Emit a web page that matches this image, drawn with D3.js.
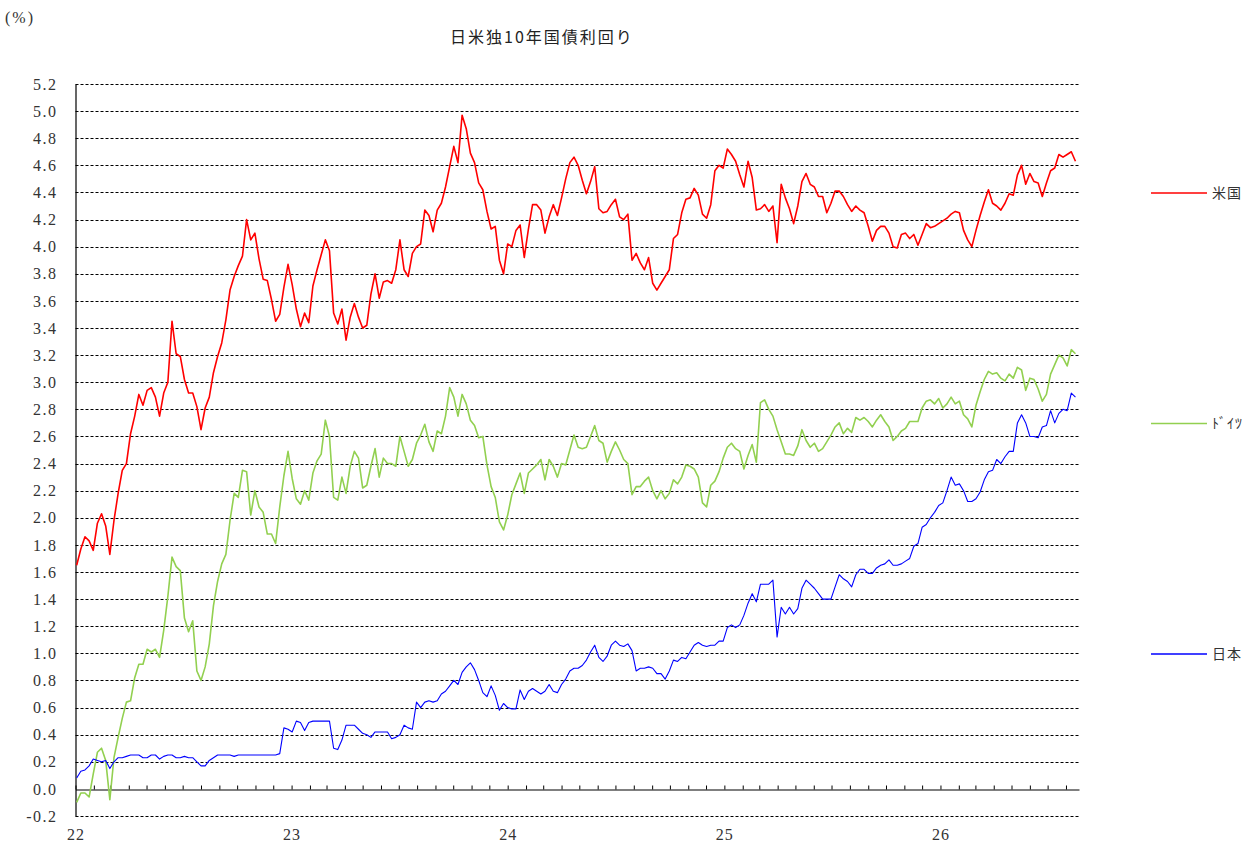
<!DOCTYPE html>
<html>
<head>
<meta charset="utf-8">
<script src="https://cdn.jsdelivr.net/npm/d3@7"></script>
<style>
  body { margin: 0; background: #fff; }
  svg { display: block; }
  .num { font-family: "Liberation Serif", "DejaVu Serif", serif; }
</style>
</head>
<body>
<div id="chart"></div>
<script>
//週次（月曜）の日付、2022年1月〜2026年8月
const weeks = d3.timeMonday.range(new Date(2022, 0, 3), new Date(2026, 7, 18));

// 米国10年債利回り (%)
const usYield = [
  1.65,1.77,1.86,1.83,1.76,1.96,2.03,1.94,1.73,1.98,2.18,2.35,2.40,2.62,2.75,2.91,2.83,2.94,2.96,2.89,
  2.75,2.92,3.00,3.45,3.21,3.19,3.02,2.92,2.92,2.82,2.65,2.81,2.89,3.07,3.19,3.29,3.46,3.68,3.78,3.86,
  3.93,4.20,4.05,4.10,3.91,3.76,3.75,3.61,3.45,3.50,3.70,3.87,3.72,3.54,3.41,3.51,3.44,3.71,3.83,3.94,
  4.05,3.97,3.51,3.43,3.54,3.31,3.48,3.58,3.48,3.40,3.42,3.65,3.80,3.62,3.74,3.75,3.73,3.83,4.05,3.83,
  3.78,3.95,4.00,4.02,4.27,4.23,4.11,4.27,4.32,4.44,4.59,4.74,4.62,4.97,4.87,4.69,4.62,4.47,4.42,4.26,
  4.13,4.15,3.90,3.80,4.02,4.00,4.12,4.16,3.92,4.13,4.31,4.31,4.27,4.10,4.22,4.31,4.23,4.36,4.50,4.62,
  4.66,4.60,4.49,4.39,4.48,4.59,4.28,4.25,4.26,4.31,4.35,4.22,4.20,4.24,3.90,3.95,3.88,3.83,3.92,3.73,
  3.68,3.73,3.78,3.83,4.06,4.09,4.25,4.35,4.36,4.43,4.38,4.24,4.21,4.31,4.56,4.60,4.58,4.72,4.68,4.63,
  4.53,4.44,4.63,4.51,4.27,4.28,4.31,4.26,4.30,4.03,4.46,4.36,4.28,4.17,4.30,4.48,4.54,4.46,4.44,4.37,
  4.37,4.25,4.32,4.41,4.41,4.37,4.31,4.26,4.30,4.27,4.25,4.15,4.04,4.12,4.15,4.15,4.10,4.00,3.99,4.09,
  4.10,4.06,4.09,4.01,4.09,4.17,4.14,4.15,4.17,4.19,4.21,4.24,4.26,4.25,4.12,4.05,4.00,4.12,4.23,4.33,
  4.42,4.32,4.30,4.27,4.32,4.39,4.38,4.53,4.60,4.46,4.54,4.48,4.47,4.37,4.47,4.56,4.58,4.68,4.66,4.68,
  4.70,4.63
];

// ドイツ10年債利回り (%)
const deYield = [
  -0.10,-0.03,-0.03,-0.06,0.11,0.27,0.30,0.21,-0.08,0.23,0.38,0.52,0.64,0.65,0.82,0.92,0.92,1.03,1.01,1.03,
  0.97,1.17,1.42,1.71,1.64,1.61,1.26,1.16,1.24,0.87,0.80,0.90,1.07,1.35,1.53,1.66,1.73,1.98,2.18,2.15,
  2.35,2.34,2.02,2.20,2.08,2.04,1.88,1.88,1.81,2.08,2.31,2.49,2.29,2.14,2.10,2.20,2.13,2.33,2.42,2.47,
  2.72,2.60,2.15,2.13,2.30,2.18,2.38,2.49,2.44,2.22,2.24,2.38,2.51,2.30,2.44,2.40,2.40,2.38,2.60,2.49,
  2.38,2.43,2.55,2.61,2.69,2.56,2.49,2.64,2.62,2.75,2.96,2.89,2.75,2.91,2.84,2.72,2.68,2.59,2.60,2.39,
  2.23,2.15,1.97,1.91,2.02,2.17,2.25,2.33,2.18,2.33,2.36,2.39,2.43,2.28,2.43,2.38,2.30,2.40,2.39,2.50,
  2.61,2.52,2.51,2.52,2.60,2.68,2.57,2.55,2.41,2.49,2.56,2.50,2.43,2.40,2.17,2.23,2.23,2.27,2.30,2.20,
  2.14,2.20,2.14,2.18,2.28,2.25,2.30,2.39,2.38,2.36,2.30,2.11,2.08,2.24,2.27,2.34,2.44,2.52,2.55,2.51,
  2.49,2.36,2.46,2.54,2.41,2.85,2.87,2.80,2.75,2.65,2.56,2.47,2.47,2.46,2.53,2.65,2.57,2.52,2.55,2.49,
  2.51,2.56,2.61,2.67,2.70,2.62,2.66,2.63,2.74,2.72,2.74,2.71,2.67,2.72,2.76,2.71,2.67,2.57,2.60,2.64,
  2.66,2.71,2.71,2.71,2.81,2.86,2.87,2.84,2.88,2.81,2.84,2.89,2.84,2.86,2.76,2.73,2.67,2.83,2.93,3.02,
  3.08,3.06,3.07,3.03,3.01,3.06,3.03,3.11,3.09,2.94,3.03,3.02,2.95,2.86,2.91,3.06,3.13,3.20,3.18,3.12,
  3.24,3.21
];

// 日本10年債利回り (%)
const jpYield = [
  0.08,0.13,0.14,0.17,0.22,0.21,0.20,0.21,0.15,0.20,0.23,0.23,0.24,0.25,0.25,0.25,0.23,0.23,0.25,0.25,
  0.22,0.24,0.25,0.25,0.23,0.23,0.24,0.23,0.23,0.20,0.17,0.17,0.21,0.23,0.25,0.25,0.25,0.25,0.24,0.25,
  0.25,0.25,0.25,0.25,0.25,0.25,0.25,0.25,0.25,0.26,0.45,0.44,0.42,0.50,0.49,0.43,0.49,0.50,0.50,0.50,
  0.50,0.50,0.30,0.29,0.36,0.47,0.47,0.47,0.44,0.41,0.40,0.38,0.42,0.42,0.42,0.42,0.37,0.38,0.40,0.47,
  0.45,0.44,0.64,0.60,0.64,0.65,0.64,0.65,0.70,0.72,0.76,0.80,0.77,0.86,0.90,0.93,0.88,0.80,0.71,0.68,
  0.76,0.69,0.58,0.63,0.60,0.59,0.59,0.73,0.66,0.72,0.74,0.72,0.70,0.72,0.77,0.72,0.71,0.77,0.81,0.87,
  0.89,0.89,0.91,0.95,1.01,1.06,0.97,0.94,0.98,1.06,1.09,1.06,1.05,1.07,1.02,0.87,0.89,0.89,0.90,0.89,
  0.85,0.85,0.81,0.87,0.95,0.94,0.97,0.96,1.01,1.06,1.08,1.06,1.05,1.06,1.06,1.09,1.09,1.19,1.21,1.19,
  1.21,1.28,1.37,1.44,1.38,1.51,1.51,1.51,1.54,1.12,1.34,1.29,1.34,1.29,1.33,1.48,1.54,1.51,1.48,1.44,
  1.40,1.40,1.40,1.49,1.58,1.55,1.53,1.49,1.58,1.62,1.62,1.59,1.59,1.63,1.65,1.66,1.69,1.65,1.65,1.66,
  1.68,1.70,1.79,1.81,1.93,1.95,2.00,2.04,2.09,2.11,2.20,2.30,2.24,2.25,2.20,2.12,2.12,2.14,2.19,2.28,
  2.34,2.35,2.43,2.40,2.45,2.49,2.49,2.70,2.76,2.70,2.60,2.60,2.59,2.67,2.68,2.79,2.70,2.77,2.80,2.79,
  2.92,2.89
];

const seriesNames = ["米国", "ﾄﾞｲﾂ", "日本"];
const seriesColors = ["#ff0000", "#92d050", "#0000ff"];
const seriesWidths = [1.6, 1.6, 1.1];

// 縦軸の目盛り
const yTicks = [-0.2, 0, 0.2, 0.4, 0.6, 0.8, 1.0, 1.2, 1.4, 1.6, 1.8, 2.0, 2.2, 2.4, 2.6,
  2.8, 3.0, 3.2, 3.4, 3.6, 3.8, 4.0, 4.2, 4.4, 4.6, 4.8, 5.0, 5.2];

const width = 1244, height = 842;
const left = 75.5, right = 1079;

const cjkFont = "'Noto Sans CJK JP', 'Noto Sans', sans-serif";

const svg = d3.select("#chart").append("svg")
    .attr("width", width)
    .attr("height", height);

const x = d3.scaleTime()
    .domain([new Date(2022, 0, 1), new Date(2026, 7, 23)])
    .range([left, right]);

const y = d3.scaleLinear()
    .domain([-0.2, 5.2])
    .range([816, 84]);

const crisp = v => Math.round(y(v)) + 0.5;

// 破線のグリッド
svg.append("g")
    .selectAll("line")
    .data(yTicks.filter(d => d !== 0))
    .enter()
    .append("line")
    .attr("x1", left)
    .attr("x2", right)
    .attr("y1", d => crisp(d))
    .attr("y2", d => crisp(d))
    .attr("stroke", "#000")
    .attr("stroke-width", 1)
    .attr("stroke-dasharray", "3,2");

// 縦軸
const yAxis = svg.append("g")
    .attr("transform", "translate(" + left + ",0)")
    .call(d3.axisLeft(y)
        .tickValues(yTicks)
        .tickFormat(d => d.toFixed(1))
        .tickSize(0)
        .tickPadding(18));
yAxis.attr("font-family", null).attr("font-size", null);
yAxis.select(".domain").attr("stroke", "#000").attr("stroke-width", 1.2);
yAxis.selectAll("text")
    .attr("class", "num")
    .style("font-size", "16px")
    .style("letter-spacing", "1.5px")
    .attr("fill", "#333");

// 横軸（ゼロ線と月目盛り）
const xAxis = svg.append("g")
    .attr("transform", "translate(0," + crisp(0) + ")")
    .call(d3.axisTop(x)
        .ticks(d3.timeMonth.every(1))
        .tickFormat("")
        .tickSize(4)
        .tickSizeOuter(0));
xAxis.select(".domain").attr("stroke", "#000").attr("stroke-width", 1.2);
xAxis.selectAll(".tick line").attr("stroke", "#000");

// 年ラベル
const yearAxis = svg.append("g")
    .attr("transform", "translate(0,829)")
    .call(d3.axisBottom(x)
        .ticks(d3.timeYear.every(1))
        .tickFormat(d3.timeFormat("%y"))
        .tickSize(0)
        .tickPadding(0));
yearAxis.attr("font-family", null).attr("font-size", null);
yearAxis.select(".domain").remove();
yearAxis.selectAll("text")
    .attr("class", "num")
    .style("font-size", "16px")
    .style("letter-spacing", "1px")
    .attr("fill", "#333");

// 系列の線
const line = d3.line()
    .x((d, i) => x(weeks[i]))
    .y(d => y(d));

[usYield, deYield, jpYield].forEach(function(values, i) {
  svg.append("path")
      .datum(values)
      .attr("fill", "none")
      .attr("stroke", seriesColors[i])
      .attr("stroke-width", seriesWidths[i])
      .attr("stroke-linejoin", "round")
      .attr("d", line);
});

// 凡例
const legend = svg.append("g")
    .selectAll("g")
    .data(seriesNames)
    .enter()
    .append("g")
    .attr("transform", (d, i) => "translate(1151," + (193 + i * 230.5) + ")");

legend.append("line")
    .attr("x1", 0)
    .attr("x2", 56)
    .attr("stroke", (d, i) => seriesColors[i])
    .attr("stroke-width", 1.3);

legend.append("text")
    .attr("x", 61)
    .attr("dy", "0.35em")
    .attr("font-family", cjkFont)
    .attr("font-size", 14)
    .attr("letter-spacing", "1px")
    .attr("fill", "#333")
    .text(d => d);

// タイトルと単位
svg.append("text")
    .attr("x", 542)
    .attr("y", 43)
    .attr("text-anchor", "middle")
    .attr("font-family", cjkFont)
    .attr("font-size", 16)
    .attr("letter-spacing", "2px")
    .attr("fill", "#222")
    .text("日米独10年国債利回り");

svg.append("text")
    .attr("class", "num")
    .attr("x", 5)
    .attr("y", 23)
    .style("font-size", "16px")
    .style("letter-spacing", "2px")
    .attr("fill", "#333")
    .text("(%)");
</script>
</body>
</html>
